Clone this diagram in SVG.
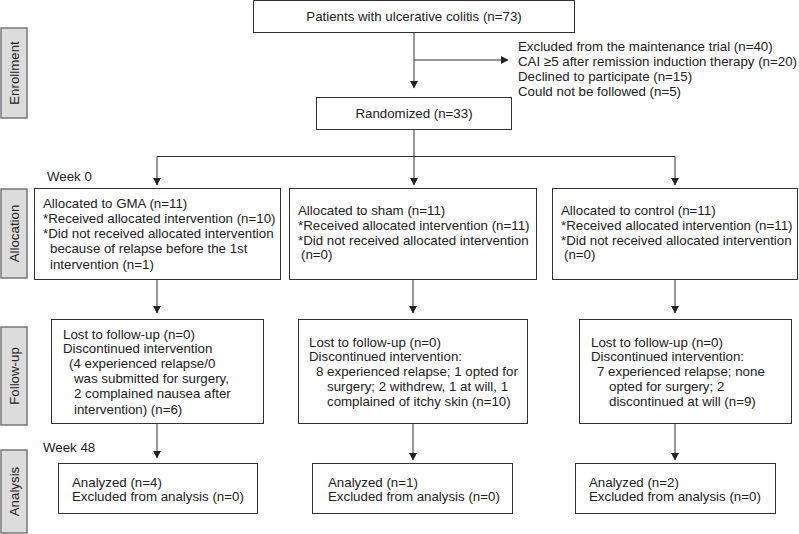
<svg xmlns="http://www.w3.org/2000/svg" width="799" height="534" viewBox="0 0 799 534">
<style>
text{font-family:"Liberation Sans",Arial,sans-serif;font-size:13.3px;fill:#222}
.box{fill:#fff;stroke:#333;stroke-width:1}
.side{fill:#dcdcdc;stroke:#7a7a7a;stroke-width:1.5}
.mid{text-anchor:middle}
.conn{stroke:#333;stroke-width:1;fill:none}
</style>
<defs>
<marker id="ah" markerWidth="8" markerHeight="8" refX="7" refY="4" orient="auto" markerUnits="userSpaceOnUse">
<path d="M0,0 L7.5,4 L0,8 Z" fill="#222"/>
</marker>
</defs>
<rect width="799" height="534" fill="#fff"/>

<g id="side-enrollment"><rect class="side" x="1" y="28" width="26" height="90"/><text class="mid" transform="translate(18.5,73) rotate(-90)">Enrollment</text></g>
<g id="side-allocation"><rect class="side" x="1" y="189" width="26" height="89"/><text class="mid" transform="translate(18.5,233.5) rotate(-90)">Allocation</text></g>
<g id="side-followup"><rect class="side" x="1" y="327" width="26" height="98"/><text class="mid" transform="translate(18.5,376) rotate(-90)">Follow-up</text></g>
<g id="side-analysis"><rect class="side" x="1" y="450" width="26" height="83"/><text class="mid" transform="translate(18.5,491.5) rotate(-90)">Analysis</text></g>

<g id="connectors">
<path class="conn" d="M414,32 V88" marker-end="url(#ah)"/>
<path class="conn" d="M414,60 H508" marker-end="url(#ah)"/>
<path class="conn" d="M414,129 V185" marker-end="url(#ah)"/>
<path class="conn" d="M157,156.5 H675"/>
<path class="conn" d="M157,156.5 V185" marker-end="url(#ah)"/>
<path class="conn" d="M675,156.5 V185" marker-end="url(#ah)"/>
<path class="conn" d="M157,280 V313" marker-end="url(#ah)"/>
<path class="conn" d="M413,280 V313" marker-end="url(#ah)"/>
<path class="conn" d="M675,280 V313" marker-end="url(#ah)"/>
<path class="conn" d="M157,424 V458" marker-end="url(#ah)"/>
<path class="conn" d="M413,424 V460" marker-end="url(#ah)"/>
<path class="conn" d="M675,424 V460" marker-end="url(#ah)"/>
</g>

<g id="patients"><rect class="box" x="253.5" y="0.5" width="321" height="32"/><text class="mid" x="414" y="21">Patients with ulcerative colitis (n=73)</text></g>
<g id="excluded">
<text x="518" y="51">Excluded from the maintenance trial (n=40)</text>
<text x="518" y="66" textLength="279" lengthAdjust="spacing">CAI ≥5 after remission induction therapy (n=20)</text>
<text x="518" y="81">Declined to participate (n=15)</text>
<text x="518" y="96">Could not be followed (n=5)</text>
</g>
<g id="randomized"><rect class="box" x="316.5" y="97.5" width="195" height="32"/><text class="mid" x="414" y="118">Randomized (n=33)</text></g>
<text id="week0" x="47" y="181">Week 0</text>

<g id="alloc-gma"><rect class="box" x="34.5" y="188.5" width="246" height="91"/>
<text x="43" y="208">Allocated to GMA (n=11)</text>
<text x="43" y="223">*Received allocated intervention (n=10)</text>
<text x="43" y="238">*Did not received allocated intervention</text>
<text x="50" y="253">because of relapse before the 1st</text>
<text x="50" y="269">intervention (n=1)</text>
</g>
<g id="alloc-sham"><rect class="box" x="289.5" y="188.5" width="247" height="91"/>
<text x="298" y="215">Allocated to sham (n=11)</text>
<text x="298" y="230">*Received allocated intervention (n=11)</text>
<text x="298" y="245">*Did not received allocated intervention</text>
<text x="301" y="259">(n=0)</text>
</g>
<g id="alloc-control"><rect class="box" x="552.5" y="188.5" width="245" height="91"/>
<text x="561" y="215">Allocated to control (n=11)</text>
<text x="561" y="230">*Received allocated intervention (n=11)</text>
<text x="561" y="245">*Did not received allocated intervention</text>
<text x="564" y="259">(n=0)</text>
</g>

<g id="fu-gma"><rect class="box" x="51.5" y="319.5" width="212" height="104"/>
<text x="63" y="339">Lost to follow-up (n=0)</text>
<text x="63" y="353">Discontinued intervention</text>
<text x="69" y="368">(4 experienced relapse/0</text>
<text x="74" y="383">was submitted for surgery,</text>
<text x="74" y="398">2 complained nausea after</text>
<text x="74" y="414">intervention) (n=6)</text>
</g>
<g id="fu-sham"><rect class="box" x="298.5" y="319.5" width="229" height="104"/>
<text x="309" y="347">Lost to follow-up (n=0)</text>
<text x="309" y="361">Discontinued intervention:</text>
<text x="316" y="376">8 experienced relapse; 1 opted for</text>
<text x="327" y="391">surgery; 2 withdrew, 1 at will, 1</text>
<text x="327" y="406">complained of itchy skin (n=10)</text>
</g>
<g id="fu-control"><rect class="box" x="579.5" y="319.5" width="212" height="104"/>
<text x="591" y="347">Lost to follow-up (n=0)</text>
<text x="591" y="361">Discontinued intervention:</text>
<text x="597" y="376">7 experienced relapse; none</text>
<text x="609" y="391">opted for surgery; 2</text>
<text x="609" y="406">discontinued at will (n=9)</text>
</g>
<text id="week48" x="43" y="452">Week 48</text>

<g id="an-gma"><rect class="box" x="58.5" y="463.5" width="199" height="50"/>
<text x="72" y="487">Analyzed (n=4)</text>
<text x="72" y="501">Excluded from analysis (n=0)</text>
</g>
<g id="an-sham"><rect class="box" x="312.5" y="463.5" width="200" height="50"/>
<text x="328" y="487">Analyzed (n=1)</text>
<text x="328" y="501">Excluded from analysis (n=0)</text>
</g>
<g id="an-control"><rect class="box" x="575.5" y="463.5" width="200" height="50"/>
<text x="589" y="487">Analyzed (n=2)</text>
<text x="589" y="501">Excluded from analysis (n=0)</text>
</g>
</svg>
